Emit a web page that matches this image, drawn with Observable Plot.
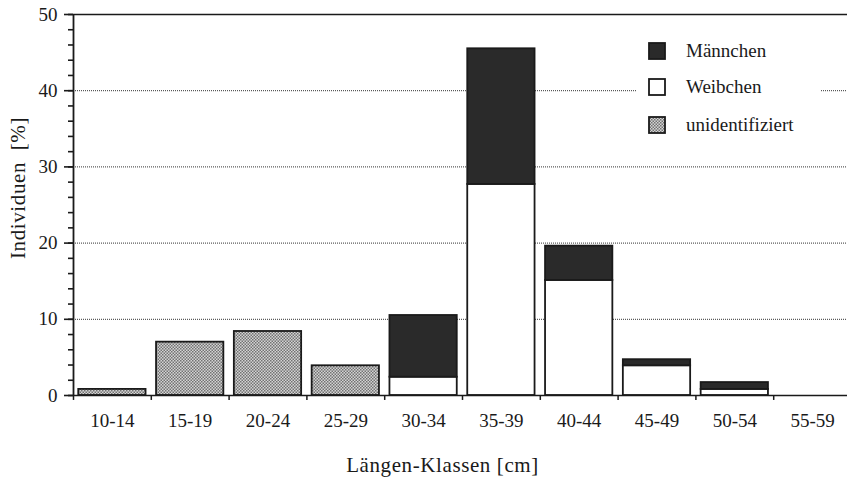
<!DOCTYPE html>
<html>
<head>
<meta charset="utf-8">
<script src="https://cdn.jsdelivr.net/npm/d3@7"></script>
<script src="https://cdn.jsdelivr.net/npm/@observablehq/plot@0.6"></script>
<style>
  body { margin: 0; background: #fff; }
  #wrap { position: relative; width: 847px; height: 478px; font-family: "Liberation Serif", serif; color: #1a1a1a; }
  #legend { position: absolute; left: 636px; top: 30px; width: 184px; height: 114px; background: #fff; }
  .item { position: absolute; left: 12px; height: 18px; display: flex; align-items: center; font-size: 19px; white-space: nowrap; }
  .item svg { margin-right: 20px; flex: none; }
</style>
</head>
<body>
<svg width="0" height="0" style="position:absolute">
  <defs>
    <pattern id="stipple" width="3" height="3" patternUnits="userSpaceOnUse">
      <rect width="3" height="3" fill="#d4d4d4"/>
      <rect width="1.5" height="1.5" fill="#727272"/>
      <rect x="1.5" y="1.5" width="1.5" height="1.5" fill="#727272"/>
    </pattern>
  </defs>
</svg>
<div id="wrap"></div>
<script>
// ---- data ----
const classes = ["10-14","15-19","20-24","25-29","30-34","35-39","40-44","45-49","50-54","55-59"];
const maennchen       = [0, 0, 0, 0, 8.1, 17.8, 4.5, 0.8, 0.9, 0];
const weibchen        = [0, 0, 0, 0, 2.4, 27.7, 15.1, 3.9, 0.8, 0];
const unidentifiziert = [0.8, 7.0, 8.4, 3.9, 0, 0, 0, 0, 0, 0];
const groups = ["Weibchen", "Männchen", "unidentifiziert"];
const legendOrder = ["Männchen", "Weibchen", "unidentifiziert"];
const fills = ["#ffffff", "#2a2a2a", "url(#stipple)"];
const yMajor = [0, 10, 20, 30, 40, 50];
const yMinor = d3.range(0, 51, 2);
const gridValues = [10, 20, 30, 40];
const yTitle = "Individuen\u00a0 [%]";
const xTitle = "Längen-Klassen [cm]";

const rows = [];
classes.forEach((c, i) => {
  [["Weibchen", weibchen[i]], ["Männchen", maennchen[i]], ["unidentifiziert", unidentifiziert[i]]]
    .forEach(([g, v]) => { if (v > 0) rows.push({klasse: c, gruppe: g, wert: v}); });
});

const x0 = 73, x1 = 851;
const step = (x1 - x0) / classes.length;
const ink = "#1a1a1a";

const chart = Plot.plot({
  width: 847,
  height: 478,
  marginLeft: 73,
  marginRight: 0,
  marginTop: 14,
  marginBottom: 83,
  style: {fontFamily: "Liberation Serif, serif", color: ink, background: "#fff"},
  x: {type: "band", domain: classes, range: [x0, x1], round: false, paddingInner: 0.135, paddingOuter: 0.0675, label: null},
  y: {domain: [0, 50], label: null},
  color: {type: "ordinal", domain: groups, range: fills},
  marks: [
    Plot.ruleY(gridValues, {stroke: "#333", strokeDasharray: "1,1", strokeWidth: 1}),
    Plot.barY(rows, {x: "klasse", y: "wert", fill: "gruppe", z: "gruppe", order: groups, stroke: ink, strokeWidth: 1.8}),
    Plot.ruleY([0], {stroke: ink, strokeWidth: 1.6}),
    Plot.ruleY([50], {stroke: ink, strokeWidth: 1.6}),
    // y axis line and x boundary ticks
    Plot.ruleX([classes[0]], {x: d => d, dx: -step / 2, y1: 0, y2: 50, stroke: ink, strokeWidth: 1.8}),
    Plot.ruleX(classes, {x: d => d, dx: -step / 2, y1: 0, y2: -0.65, stroke: ink, strokeWidth: 1.5}),
    Plot.axisX({tickSize: 0, tickPadding: 18, fontSize: 19, label: null}),
    Plot.axisY(yMajor, {tickSize: 9, tickPadding: 7, fontSize: 19, label: null, strokeWidth: 1.6}),
    Plot.axisY(yMinor, {tickSize: 5, tickFormat: () => "", label: null, strokeWidth: 1.6}),
    Plot.text([yTitle], {frameAnchor: "left", textAnchor: "middle", lineAnchor: "middle", rotate: -90, dx: -55, dy: -17, fontSize: 21}),
    Plot.text([xTitle], {frameAnchor: "bottom", textAnchor: "middle", lineAnchor: "middle", dx: -18, dy: 70, fontSize: 21})
  ]
});

// slightly wider set titles (the original face runs wider than Liberation Serif)
d3.select(chart).selectAll("text")
  .filter(function () { return this.textContent === yTitle || this.textContent === xTitle; })
  .style("letter-spacing", "0.6px");

const wrap = document.getElementById("wrap");
wrap.appendChild(chart);

// legend (overlay inside the plot area)
const legend = document.createElement("div");
legend.id = "legend";
const rowTops = [12, 48, 86];
legendOrder.forEach((g, i) => {
  const item = document.createElement("div");
  item.className = "item";
  item.style.top = rowTops[i] + "px";
  const f = fills[groups.indexOf(g)];
  item.innerHTML = `<svg width="18" height="18"><rect x="1" y="1" width="16" height="16" fill="${f}" stroke="${ink}" stroke-width="1.8"/></svg><span>${g}</span>`;
  legend.appendChild(item);
});
wrap.appendChild(legend);
</script>
</body>
</html>
